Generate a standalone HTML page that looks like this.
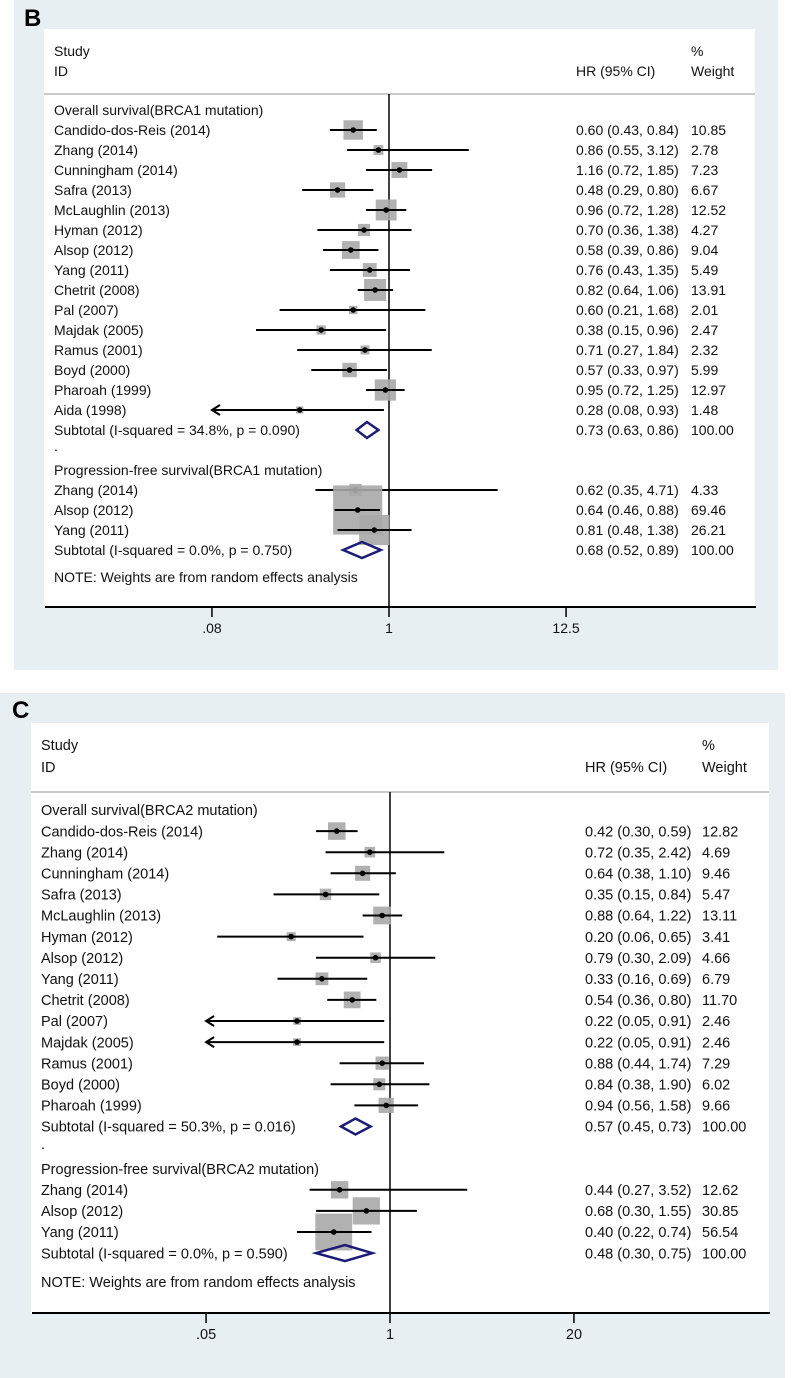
<!DOCTYPE html>
<html><head><meta charset="utf-8"><style>
html,body{margin:0;padding:0;background:#fff;}
svg{display:block;font-family:"Liberation Sans",Arial,sans-serif;}
</style></head><body>
<svg id="chart" width="793" height="1378" viewBox="0 0 793 1378" xmlns="http://www.w3.org/2000/svg"></svg>
<script>
// ---------- Panel B data (BRCA1) ----------
const bOsStudies = ["Candido-dos-Reis (2014)","Zhang (2014)","Cunningham (2014)","Safra (2013)","McLaughlin (2013)","Hyman (2012)","Alsop (2012)","Yang (2011)","Chetrit (2008)","Pal (2007)","Majdak (2005)","Ramus (2001)","Boyd (2000)","Pharoah (1999)","Aida (1998)"];
const bOsHR = [0.60,0.86,1.16,0.48,0.96,0.70,0.58,0.76,0.82,0.60,0.38,0.71,0.57,0.95,0.28];
const bOsLo = [0.43,0.55,0.72,0.29,0.72,0.36,0.39,0.43,0.64,0.21,0.15,0.27,0.33,0.72,0.08];
const bOsHi = [0.84,3.12,1.85,0.80,1.28,1.38,0.86,1.35,1.06,1.68,0.96,1.84,0.97,1.25,0.93];
const bOsW = [10.85,2.78,7.23,6.67,12.52,4.27,9.04,5.49,13.91,2.01,2.47,2.32,5.99,12.97,1.48];
const bPfsStudies = ["Zhang (2014)","Alsop (2012)","Yang (2011)"];
const bPfsHR = [0.62,0.64,0.81];
const bPfsLo = [0.35,0.46,0.48];
const bPfsHi = [4.71,0.88,1.38];
const bPfsW = [4.33,69.46,26.21];
const bSubLabels = ["Subtotal  (I-squared = 34.8%, p = 0.090)","Subtotal  (I-squared = 0.0%, p = 0.750)"];
const bSubHR = [0.73,0.68];
const bSubLo = [0.63,0.52];
const bSubHi = [0.86,0.89];
const bTicks = [0.08,1,12.5];
const bTickLabels = [".08","1","12.5"];
const bGroups = ["Overall survival(BRCA1 mutation)","Progression-free survival(BRCA1 mutation)"];

// ---------- Panel C data (BRCA2) ----------
const cOsStudies = ["Candido-dos-Reis (2014)","Zhang (2014)","Cunningham (2014)","Safra (2013)","McLaughlin (2013)","Hyman (2012)","Alsop (2012)","Yang (2011)","Chetrit (2008)","Pal (2007)","Majdak (2005)","Ramus (2001)","Boyd (2000)","Pharoah (1999)"];
const cOsHR = [0.42,0.72,0.64,0.35,0.88,0.20,0.79,0.33,0.54,0.22,0.22,0.88,0.84,0.94];
const cOsLo = [0.30,0.35,0.38,0.15,0.64,0.06,0.30,0.16,0.36,0.05,0.05,0.44,0.38,0.56];
const cOsHi = [0.59,2.42,1.10,0.84,1.22,0.65,2.09,0.69,0.80,0.91,0.91,1.74,1.90,1.58];
const cOsW = [12.82,4.69,9.46,5.47,13.11,3.41,4.66,6.79,11.70,2.46,2.46,7.29,6.02,9.66];
const cPfsStudies = ["Zhang (2014)","Alsop (2012)","Yang (2011)"];
const cPfsHR = [0.44,0.68,0.40];
const cPfsLo = [0.27,0.30,0.22];
const cPfsHi = [3.52,1.55,0.74];
const cPfsW = [12.62,30.85,56.54];
const cSubLabels = ["Subtotal  (I-squared = 50.3%, p = 0.016)","Subtotal  (I-squared = 0.0%, p = 0.590)"];
const cSubHR = [0.57,0.48];
const cSubLo = [0.45,0.30];
const cSubHi = [0.73,0.75];
const cTicks = [0.05,1,20];
const cTickLabels = [".05","1","20"];
const cGroups = ["Overall survival(BRCA2 mutation)","Progression-free survival(BRCA2 mutation)"];

const NS = "http://www.w3.org/2000/svg";
const svg = document.getElementById('chart');
function mk(tag, attrs, parent){
  const e = document.createElementNS(NS, tag);
  for (const k in attrs) e.setAttribute(k, attrs[k]);
  (parent||svg).appendChild(e);
  return e;
}
function f2(v){return v.toFixed(2);}

function drawPanel(P){
  const g = mk('g', {});
  
  
  const bg = mk('rect', {x:P.bgX, y:P.bgY, width:P.bgW, height:P.bgH, fill:'#e8eff3'}, g);
  
  
  const plot = mk('rect', {x:P.wX, y:P.wY, width:P.wW, height:P.axisY - P.wY, fill:'#ffffff'}, g);
  
  
  const letter = mk('text', {x:P.letterX, y:P.letterY, 'font-size':24, 'font-weight':'bold', fill:'#000'}, g);
  letter.textContent = P.letter;
  
  

  const fs = P.fs, sx = P.sx;
  function txt(s, x, yc, name){
    const t = mk('text', {transform:`translate(${x},${yc + fs*0.36}) scale(${sx},1)`, 'font-size':fs, fill:'#111'}, g);
    t.textContent = s;
    
    
    return t;
  }
  const X = v => P.nullX + P.k * Math.log(v);
  const minT = P.ticks[0], maxT = P.ticks[P.ticks.length-1];

  txt('Study', P.textX, P.hdr1, 'header-study');
  txt('ID', P.textX, P.hdr2, 'header-id');
  txt('%', P.wtX, P.hdr1, 'header-percent');
  txt('HR (95% CI)', P.hrX, P.hdr2, 'header-hr-ci');
  txt('Weight', P.wtX, P.hdr2, 'header-weight');
  const sep = mk('line', {x1:P.wX, x2:P.wX+P.wW, y1:P.sepY, y2:P.sepY, stroke:'#b8b8b8', 'stroke-width':1.5}, g);
  
  

  const nl = mk('line', {x1:X(1), x2:X(1), y1:P.sepY, y2:P.axisY, stroke:'#000', 'stroke-width':1.5}, g);
  
  

  function study(label, hr, lo, hi, w, y){
    txt(label, P.textX, y, 'study-label');
    const s = P.boxK * Math.sqrt(w);
    const box = mk('rect', {x:X(hr)-s/2, y:y-s/2, width:s, height:s, fill:'#a9a9a9', opacity:0.9}, g);
    
    
    const l = Math.max(lo, minT), h = Math.min(hi, maxT);
    const ci = mk('line', {x1:X(l), x2:X(h), y1:y, y2:y, stroke:'#000', 'stroke-width':2}, g);
    
    
    if (lo <= minT){
      const ar = mk('polyline', {points:`${X(l)+8},${y-5} ${X(l)},${y} ${X(l)+8},${y+5}`, fill:'none', stroke:'#000', 'stroke-width':2}, g);
      
      
    }
    const pt = mk('circle', {cx:X(hr), cy:y, r:2.8, fill:'#000'}, g);
    
    
    txt(`${f2(hr)} (${f2(lo)}, ${f2(hi)})`, P.hrX, y, 'hr-ci-value');
    txt(f2(w), P.wtX, y, 'weight-value');
  }
  function subtotal(label, hr, lo, hi, y){
    txt(label, P.textX, y, 'subtotal-label');
    const d = mk('polygon', {points:`${X(lo)},${y} ${X(hr)},${y-8} ${X(hi)},${y} ${X(hr)},${y+8}`, fill:'none', stroke:'#1c1c78', 'stroke-width':2.5}, g);
    
    
    txt(`${f2(hr)} (${f2(lo)}, ${f2(hi)})`, P.hrX, y, 'subtotal-hr-ci');
    txt('100.00', P.wtX, y, 'subtotal-weight');
  }

  let y = P.firstY;
  txt(P.groups[0], P.textX, y, 'group-header-os');
  y += P.step;
  for (let i=0;i<P.os.s.length;i++){ study(P.os.s[i], P.os.hr[i], P.os.lo[i], P.os.hi[i], P.os.w[i], y); y += P.step; }
  subtotal(P.sub.l[0], P.sub.hr[0], P.sub.lo[0], P.sub.hi[0], y); y += P.step;
  txt('.', P.textX, y-4, 'spacer-dot'); y += P.step;
  txt(P.groups[1], P.textX, y, 'group-header-pfs'); y += P.step;
  for (let i=0;i<P.pfs.s.length;i++){ study(P.pfs.s[i], P.pfs.hr[i], P.pfs.lo[i], P.pfs.hi[i], P.pfs.w[i], y); y += P.step; }
  subtotal(P.sub.l[1], P.sub.hr[1], P.sub.lo[1], P.sub.hi[1], y);
  txt('NOTE: Weights are from random effects analysis', P.textX, P.noteY, 'note-text');

  const ax = mk('line', {x1:P.wX+1, x2:P.wX+P.wW+1, y1:P.axisY, y2:P.axisY, stroke:'#000', 'stroke-width':2}, g);
  
  
  for (let i=0;i<P.ticks.length;i++){
    const tk = mk('line', {x1:X(P.ticks[i]), x2:X(P.ticks[i]), y1:P.axisY, y2:P.axisY+10, stroke:'#000', 'stroke-width':1.5}, g);
    
    
    const t = txt(P.tickLabels[i], X(P.ticks[i]), P.axisY+21, 'x-tick-label');
    t.setAttribute('text-anchor', 'middle');
  }
}

drawPanel({name:'panel-b-brca1', letter:'B', bgX:14, bgY:0, bgW:764, bgH:670, wX:44, wY:29, wW:711,
  letterX:24, letterY:26, fs:14, sx:1, textX:54, hrX:576, wtX:691, hdr1:51, hdr2:71, sepY:94,
  firstY:110, step:20, noteY:577, axisY:607, nullX:389, k:70.1, boxK:5.9,
  ticks:bTicks, tickLabels:bTickLabels, groups:bGroups,
  os:{s:bOsStudies, hr:bOsHR, lo:bOsLo, hi:bOsHi, w:bOsW},
  pfs:{s:bPfsStudies, hr:bPfsHR, lo:bPfsLo, hi:bPfsHi, w:bPfsW},
  sub:{l:bSubLabels, hr:bSubHR, lo:bSubLo, hi:bSubHi}});

drawPanel({name:'panel-c-brca2', letter:'C', bgX:0, bgY:693, bgW:785, bgH:685, wX:31, wY:723, wW:738,
  letterX:12, letterY:718, fs:14.5, sx:1, textX:41, hrX:585, wtX:702, hdr1:745, hdr2:767, sepY:792,
  firstY:810, step:21.1, noteY:1282, axisY:1313, nullX:390, k:61.4, boxK:4.9,
  ticks:cTicks, tickLabels:cTickLabels, groups:cGroups,
  os:{s:cOsStudies, hr:cOsHR, lo:cOsLo, hi:cOsHi, w:cOsW},
  pfs:{s:cPfsStudies, hr:cPfsHR, lo:cPfsLo, hi:cPfsHi, w:cPfsW},
  sub:{l:cSubLabels, hr:cSubHR, lo:cSubLo, hi:cSubHi}});
</script>
</body></html>
